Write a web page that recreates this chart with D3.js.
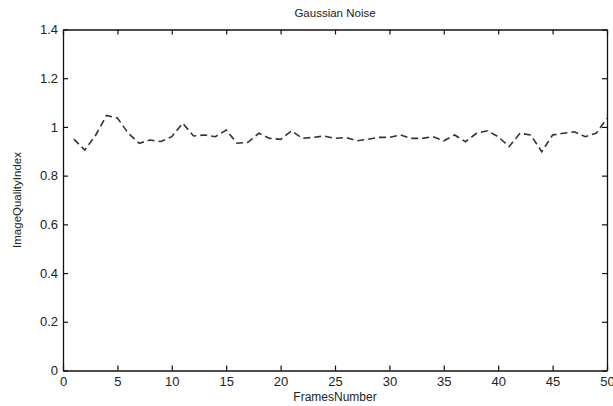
<!DOCTYPE html>
<html>
<head>
<meta charset="utf-8">
<script src="https://cdn.jsdelivr.net/npm/d3@7"></script>
<style>
  body { margin: 0; background: #fff; }
  svg text { font-family: "Liberation Sans", Arial, sans-serif; fill: #222; }
</style>
</head>
<body>
<div id="chart"></div>
<script>
// frame numbers and image quality index
const frames = d3.range(1, 51)
const qualityIndex = [
  0.950, 0.905, 0.966, 1.047, 1.037, 0.974, 0.933, 0.946, 0.940, 0.960,
  1.015, 0.963, 0.967, 0.960, 0.987, 0.933, 0.937, 0.974, 0.953, 0.949,
  0.984, 0.953, 0.957, 0.963, 0.953, 0.957, 0.943, 0.949, 0.957, 0.957,
  0.967, 0.953, 0.953, 0.960, 0.943, 0.967, 0.939, 0.974, 0.984, 0.960,
  0.919, 0.974, 0.967, 0.898, 0.967, 0.974, 0.980, 0.960, 0.974, 1.035
]
const xTicks = [0, 5, 10, 15, 20, 25, 30, 35, 40, 45, 50]
const yTicks = [0, 0.2, 0.4, 0.6, 0.8, 1, 1.2, 1.4]

const width = 613, height = 406
const margin = { top: 29.5, right: 6, bottom: 35.5, left: 63 }

const svg = d3.select("#chart").append("svg")
  .attr("width", width)
  .attr("height", height)

const x = d3.scaleLinear([0, 50], [margin.left, width - margin.right])
const y = d3.scaleLinear([0, 1.4], [height - margin.bottom, margin.top])

//box with inward ticks on all four sides, like matlab
const tickLen = 5
svg.append("g")
  .attr("transform", `translate(0,${y(0)})`)
  .call(d3.axisBottom(x).tickValues(xTicks).tickSizeInner(-tickLen).tickSizeOuter(0).tickPadding(6)
    .tickFormat(d3.format("d")))
svg.append("g")
  .attr("transform", `translate(0,${y(1.4)})`)
  .call(d3.axisTop(x).tickValues(xTicks).tickSizeInner(-tickLen).tickSizeOuter(0).tickFormat(""))
svg.append("g")
  .attr("transform", `translate(${x(0)},0)`)
  .call(d3.axisLeft(y).tickValues(yTicks).tickSizeInner(-tickLen).tickSizeOuter(0).tickPadding(5)
    .tickFormat(d => d === 0 || d === 1 ? d3.format("d")(d) : d3.format(".1f")(d)))
svg.append("g")
  .attr("transform", `translate(${x(50)},0)`)
  .call(d3.axisRight(y).tickValues(yTicks).tickSizeInner(-tickLen).tickSizeOuter(0).tickFormat(""))

svg.selectAll(".domain").attr("stroke", "#111").attr("stroke-width", 1.3)
svg.selectAll(".tick line").attr("stroke", "#111").attr("stroke-width", 1.2)
svg.selectAll(".tick text").attr("font-size", 13).attr("fill", "#222")
  .attr("font-family", "Liberation Sans, Arial, sans-serif")

// the dashed line
const line = d3.line()
  .x((d, i) => x(frames[i]))
  .y(d => y(d))

svg.append("path")
  .datum(qualityIndex)
  .attr("d", line)
  .attr("fill", "none")
  .attr("stroke", "#333")
  .attr("stroke-width", 1.6)
  .attr("stroke-dasharray", "7,4")

// labels
svg.append("text")
  .attr("x", (x(0) + x(50)) / 2)
  .attr("y", 17)
  .attr("text-anchor", "middle")
  .attr("font-size", 11.5)
  .text("Gaussian Noise")

svg.append("text")
  .attr("x", (x(0) + x(50)) / 2)
  .attr("y", 401)
  .attr("text-anchor", "middle")
  .attr("font-size", 12)
  .text("FramesNumber")

svg.append("text")
  .attr("transform", `translate(21,${(y(0) + y(1.4)) / 2}) rotate(-90)`)
  .attr("text-anchor", "middle")
  .attr("font-size", 11.5)
  .text("ImageQualityIndex")
</script>
</body>
</html>
